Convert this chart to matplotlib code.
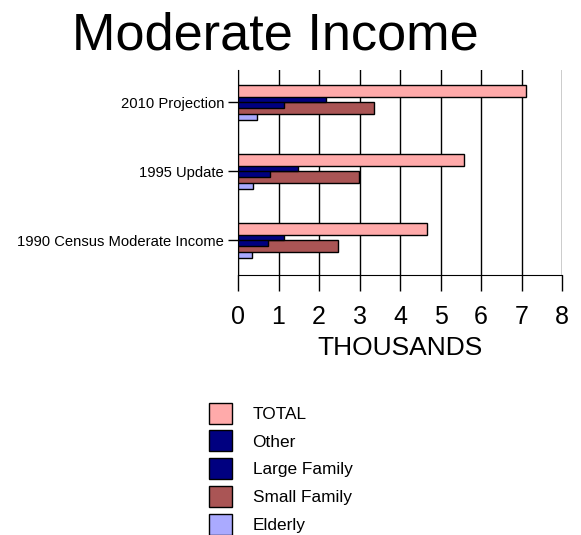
import numpy as np
import matplotlib
matplotlib.use("Agg")
import matplotlib.pyplot as plt
from matplotlib.patches import Patch

categories = ['2010 Projection', '1995 Update', '1990 Census Moderate Income']
series = ['TOTAL', 'Other', 'Large Family', 'Small Family', 'Elderly']
total = [7.10, 5.59, 4.66]
other = [2.17, 1.48, 1.14]
large_family = [1.14, 0.79, 0.75]
small_family = [3.35, 2.98, 2.46]
elderly = [0.48, 0.36, 0.35]
colors = ['#FFAAAA', '#000080', '#000080', '#AA5555', '#AAAAFF']

values = [total, other, large_family, small_family, elderly]

plt.rcParams['font.family'] = ['Liberation Sans', 'DejaVu Sans']

fig = plt.figure(figsize=(5.81, 5.35), dpi=100)
ax = fig.add_axes([238 / 581, 1 - 275 / 535, 324 / 581, 205 / 535])

y = np.arange(len(categories))
step = 0.085
h = 2 * step
# draw bottom series first so upper bars overlap lower ones
for i in reversed(range(len(series))):
    ax.barh(y + (i - 2) * step, values[i], height=h, color=colors[i],
            edgecolor='black', linewidth=1, zorder=3 + (5 - i))

ax.set_xlim(0, 8)
ax.set_ylim(2.5, -0.47)
ax.set_xticks(range(9))
ax.set_yticks(y)
ax.set_yticklabels(categories, fontsize=10.6)
ax.tick_params(axis='x', labelsize=18, length=11.3, width=1, pad=10)
ax.tick_params(axis='y', length=7, width=1, pad=3)
ax.grid(axis='x', color='black', linewidth=1, zorder=1)
ax.set_axisbelow(True)
for s in ['top', 'right']:
    ax.spines[s].set_visible(False)
ax.set_xlabel('THOUSANDS', fontsize=19, labelpad=5)

fig.text(275.5 / 581, 1 - 49.3 / 535, 'Moderate Income', fontsize=37.6,
         ha='center', va='baseline')

handles = [Patch(facecolor=c, edgecolor='black', linewidth=1) for c in colors]
fig.legend(handles, series, loc='upper left',
           bbox_to_anchor=(194 / 581, 1 - 387 / 535), frameon=False,
           fontsize=12.4, handlelength=1.3, handleheight=1.5,
           labelspacing=0.4, handletextpad=1.2)

fig.savefig('out.png', dpi=100)
